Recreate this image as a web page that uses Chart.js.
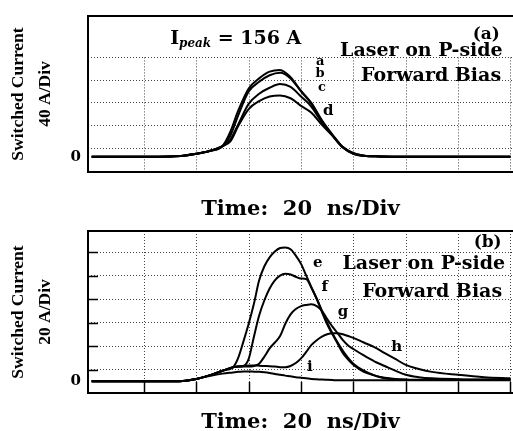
<!DOCTYPE html>
<html>
<head>
<meta charset="utf-8">
<script src="https://cdn.jsdelivr.net/npm/chart.js@4.4.0/dist/chart.umd.min.js"></script>
<style>
  html, body { margin: 0; padding: 0; background: #fff; }
  canvas { display: block; }
</style>
</head>
<body>
<canvas id="chartA" width="513" height="215"></canvas>
<canvas id="chartB" width="513" height="216"></canvas>
<script>
// ---- panel (a): time in ns, current in A (40 A/div)
const timeA = [0, 10, 20, 30, 35, 40, 45, 50, 53, 56, 60, 64, 68, 72, 76, 80, 84, 88, 92, 96, 100, 104, 110, 120, 130, 140, 150, 160];
const traceA = [0, 0, 0, 0.5, 1.7, 5, 10, 18.6, 44, 81, 120, 138, 150, 153, 140, 116, 94.5, 64, 39, 17, 6, 1.7, 0.5, 0, 0, 0, 0, 0];
const traceB = [0, 0, 0, 0.5, 1.7, 5, 10, 18.6, 37, 73, 115, 132, 143.5, 148, 138, 115, 93, 62, 38, 17, 6, 1.7, 0.5, 0, 0, 0, 0, 0];
const traceC = [0, 0, 0, 0.5, 1.7, 5, 10, 18.6, 30, 57, 93, 111, 121.5, 128, 123, 106, 88, 60, 37, 16, 5, 1.5, 0.5, 0, 0, 0, 0, 0];
const traceD = [0, 0, 0, 0.5, 1.7, 5, 10, 18.6, 27, 54, 84, 98, 106, 108, 103, 89.5, 77.6, 56, 37, 16, 5, 1.5, 0.5, 0, 0, 0, 0, 0];
const gridYA = [0, 15, 55, 95, 135, 175];

// ---- panel (b): 20 A/div
const timeB = [0, 20, 30, 36, 40, 45, 50, 54, 56, 58, 60, 62, 64, 66, 68, 70, 72, 74, 76, 78, 80, 82, 84, 86, 88, 90, 92, 94, 96, 98, 100, 104, 108, 112, 116, 120, 125, 130, 140, 150, 160];
const traceE = [0, 0, 0, 0.5, 2, 5, 9, 12, 20, 34, 49, 66, 86, 98, 105.5, 110.5, 113.5, 114, 112.5, 107, 100, 90, 80, 70, 59, 48.5, 40, 32, 24, 18.5, 14, 8, 5, 2.5, 1.5, 1.2, 1, 1, 1, 1, 1];
const traceF = [0, 0, 0, 0.5, 2, 5, 9, 12, 12.5, 13, 19, 38, 56, 69, 79, 86, 90, 91.5, 91, 89, 87.5, 87, 79.5, 70.5, 60, 50, 41, 33, 26, 20, 15, 9, 5, 3, 2, 1.5, 1.2, 1.2, 1.2, 1.2, 1.2];
const traceG = [0, 0, 0, 0.5, 2, 5, 9, 12, 12.5, 12.5, 12.5, 13, 15, 21, 28, 33, 38.5, 49, 57, 61.5, 64, 65, 65.5, 64, 60, 53, 46.5, 41, 35, 30.5, 27.5, 22, 17, 13, 9, 5.5, 3.5, 2.5, 1.8, 1.5, 1.5];
const traceH = [0, 0, 0, 0.5, 2, 5, 9, 12, 12.5, 13, 13.5, 13.5, 13.2, 13, 12.8, 12.5, 12, 12, 13, 15.5, 19.5, 25, 31, 35, 38, 40, 41, 41, 40, 38.5, 37, 33, 29, 24, 19, 14, 10.5, 8, 5.5, 3.5, 2.5];
const traceI = [0, 0, 0, 0.5, 2, 4.5, 6.5, 7.5, 8, 8.3, 8.4, 8.2, 8, 7.6, 7, 6.2, 5.5, 4.8, 4.2, 3.5, 3, 2.5, 2, 1.7, 1.4, 1.2, 1, 0.8, 0.8, 0.8, 0.8, 0.8, 0.8, 0.8, 0.8, 0.8, 0.8, 0.8, 0.8, 0.8, 0.8];
const gridYB = [0, 10, 30, 50, 70, 90, 110];

const gridX = [20, 40, 60, 80, 100, 120, 140, 160];

const SERIF = "'DejaVu Serif', serif";
const TIMES = "'Liberation Serif', 'Times New Roman', serif";

// oscilloscope look: frame, dotted verticals, graticule marks, in-plot text
const scopePlugin = {
  id: 'scope',
  beforeDatasetsDraw(chart, args, opts) {
    const { ctx, chartArea: ca, scales: { x, y } } = chart;
    const top = opts.gridTop != null ? y.getPixelForValue(opts.gridTop) : ca.top;
    ctx.save();
    ctx.strokeStyle = '#444';
    ctx.lineWidth = 1;
    ctx.setLineDash([1, 2]);
    x.ticks.forEach(tk => {
      const px = Math.round(x.getPixelForValue(tk.value)) + 0.5;
      ctx.beginPath();
      ctx.moveTo(px, top);
      ctx.lineTo(px, ca.bottom);
      ctx.stroke();
    });
    ctx.restore();
  },
  afterDraw(chart, args, opts) {
    const { ctx, chartArea: ca, scales: { x, y } } = chart;
    ctx.save();
    ctx.strokeStyle = '#000';
    ctx.lineWidth = 2;
    ctx.beginPath();
    ctx.moveTo(ca.right, ca.top); ctx.lineTo(ca.left, ca.top);
    ctx.lineTo(ca.left, ca.bottom); ctx.lineTo(ca.right, ca.bottom);
    ctx.stroke();

    if (opts.marks) {
      ctx.lineWidth = 1.5;
      x.ticks.forEach(tk => {
        const px = Math.round(x.getPixelForValue(tk.value)) + 0.5;
        ctx.beginPath(); ctx.moveTo(px, ca.bottom); ctx.lineTo(px, ca.bottom - 11); ctx.stroke();
      });
      y.ticks.forEach(tk => {
        if (tk.value === 0) return;
        const py = Math.round(y.getPixelForValue(tk.value)) + 0.5;
        ctx.beginPath(); ctx.moveTo(ca.left, py); ctx.lineTo(ca.left + 10, py); ctx.stroke();
      });
    }

    ctx.fillStyle = '#000';
    ctx.textBaseline = 'middle';
    (opts.labels || []).forEach(l => {
      ctx.font = 'bold ' + l.size + 'px ' + SERIF;
      ctx.textAlign = 'center';
      ctx.fillText(l.text, x.getPixelForValue(l.x), y.getPixelForValue(l.y));
    });

    if (opts.peak) {
      const p = opts.peak;
      let px = x.getPixelForValue(p.x);
      const py = y.getPixelForValue(p.y);
      ctx.textAlign = 'left';
      ctx.font = 'bold 19px ' + SERIF;
      ctx.fillText('I', px, py);
      px += ctx.measureText('I').width;
      ctx.font = 'bold italic 12px ' + SERIF;
      ctx.fillText('peak', px, py + 5);
      px += ctx.measureText('peak').width;
      ctx.font = 'bold 19px ' + SERIF;
      ctx.fillText(' = ' + p.value + ' A', px, py);
    }
    ctx.restore();
  }
};

function makePanel(id, cfg) {
  const datasets = cfg.traces.map(tr => ({
    label: tr.name,
    data: cfg.time.map((t, i) => ({ x: t, y: tr.values[i] })),
    borderColor: '#000',
    borderWidth: 2,
    pointRadius: 0,
    fill: false,
    cubicInterpolationMode: 'monotone'
  }));

  return new Chart(document.getElementById(id), {
    type: 'line',
    data: { datasets: datasets },
    plugins: [scopePlugin],
    options: {
      responsive: false,
      animation: false,
      layout: { padding: { top: cfg.padTop, right: 0, bottom: 0, left: 0 } },
      plugins: {
        legend: { display: false },
        tooltip: { enabled: false },
        scope: { gridTop: cfg.gridTop, marks: cfg.marks, labels: cfg.labels, peak: cfg.peak }
      },
      scales: {
        x: {
          type: 'linear',
          min: -1.4,
          max: 161,
          afterBuildTicks: s => { s.ticks = gridX.map(v => ({ value: v })); },
          afterFit: s => { s.height = cfg.xHeight; },
          ticks: { display: false },
          grid: { display: false },
          border: { display: false },
          title: {
            display: true,
            text: 'Time:  20  ns/Div',
            color: '#000',
            padding: 0,
            font: { family: SERIF, size: 21, weight: 'bold', lineHeight: cfg.titleLH }
          }
        },
        y: {
          type: 'linear',
          min: cfg.yMin,
          max: cfg.yMax,
          afterBuildTicks: s => { s.ticks = cfg.gridY.map(v => ({ value: v })); },
          afterFit: s => { s.width = 88; },
          ticks: {
            color: '#000',
            padding: 7,
            font: { family: SERIF, size: 15, weight: 'bold' },
            callback: v => (v === 0 ? '0' : '')
          },
          grid: {
            drawTicks: false,
            lineWidth: 1,
            color: c => (c.tick && c.tick.value === 0 ? 'rgba(0,0,0,0)' : '#444')
          },
          border: { display: false, dash: [1, 2] },
          title: {
            display: true,
            text: ['Switched Current', cfg.unit],
            color: '#000',
            padding: { top: 4.5, bottom: 0 },
            font: { family: TIMES, size: 17.5, weight: 'bold', lineHeight: '27px' }
          }
        }
      }
    }
  });
}

makePanel('chartA', {
  time: timeA,
  traces: [
    { name: 'a', values: traceA },
    { name: 'b', values: traceB },
    { name: 'c', values: traceC },
    { name: 'd', values: traceD }
  ],
  gridY: gridYA,
  yMin: -27,
  yMax: 248,
  gridTop: 175,
  padTop: 9,
  xHeight: 43,
  titleLH: '10px',
  unit: '40 A/Div',
  marks: false,
  peak: { x: 30, y: 207, value: 156 },
  labels: [
    { text: '(a)', x: 150.8, y: 216, size: 17 },
    { text: 'Laser on P-side', x: 126, y: 187, size: 19 },
    { text: 'Forward Bias', x: 129.7, y: 143, size: 19 },
    { text: 'a', x: 87.3, y: 168, size: 13 },
    { text: 'b', x: 87.3, y: 147, size: 13 },
    { text: 'c', x: 88, y: 122, size: 13 },
    { text: 'd', x: 90.4, y: 80, size: 15 }
  ]
});

makePanel('chartB', {
  time: timeB,
  traces: [
    { name: 'e', values: traceE },
    { name: 'f', values: traceF },
    { name: 'g', values: traceG },
    { name: 'h', values: traceH },
    { name: 'i', values: traceI }
  ],
  gridY: gridYB,
  yMin: -10,
  yMax: 128,
  gridTop: null,
  padTop: 14,
  xHeight: 38,
  titleLH: '16px',
  unit: '20 A/Div',
  marks: true,
  labels: [
    { text: '(b)', x: 151.3, y: 118, size: 17 },
    { text: 'e', x: 86.4, y: 101, size: 15 },
    { text: 'Laser on P-side', x: 126.9, y: 100, size: 19 },
    { text: 'f', x: 89.1, y: 80, size: 15 },
    { text: 'Forward Bias', x: 130.1, y: 76, size: 19 },
    { text: 'g', x: 96, y: 59, size: 15 },
    { text: 'h', x: 116.6, y: 29, size: 15 },
    { text: 'i', x: 83.4, y: 12, size: 15 }
  ]
});
</script>
</body>
</html>
